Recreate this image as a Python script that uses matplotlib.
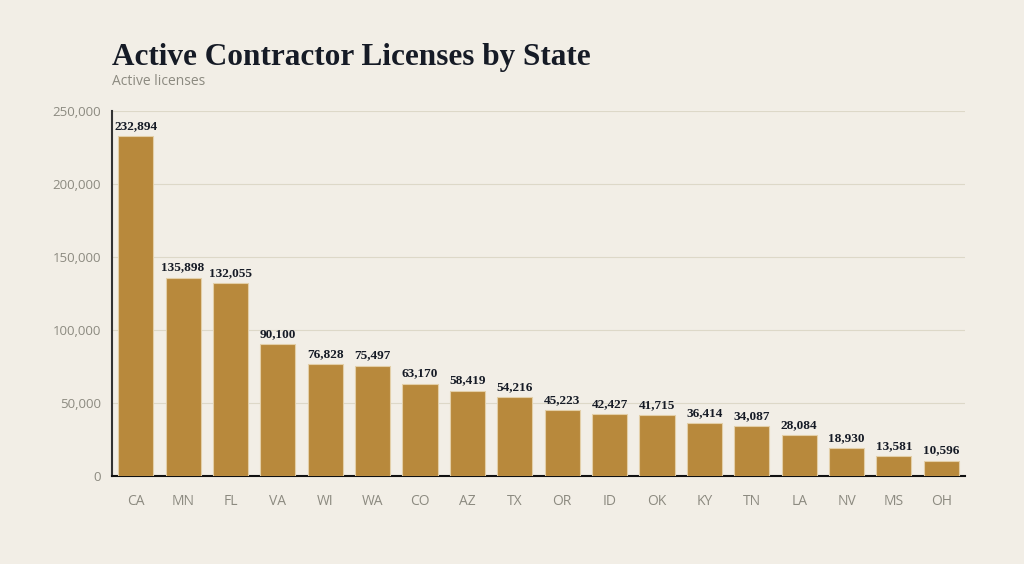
import matplotlib
matplotlib.use("Agg")
import matplotlib.pyplot as plt
from matplotlib.ticker import FuncFormatter, MultipleLocator

states = ["CA", "MN", "FL", "VA", "WI", "WA", "CO", "AZ", "TX", "OR", "ID", "OK",
          "KY", "TN", "LA", "NV", "MS", "OH"]
licenses = [232894, 135898, 132055, 90100, 76828, 75497, 63170, 58419, 54216,
            45223, 42427, 41715, 36414, 34087, 28084, 18930, 13581, 10596]

BG = "#F2EEE6"
BAR = "#B8893C"
DARK = "#161B26"
GRAY = "#8C8A80"
GRID = "#DDD8C8"

fig = plt.figure(figsize=(10.24, 5.64), dpi=100, facecolor=BG)
ax = fig.add_axes([112/1024, 1-476/564, (965-112)/1024, (476-111)/564])
ax.set_facecolor(BG)

x = list(range(len(states)))
bars = ax.bar(x, licenses, width=0.74, color=BAR, edgecolor="#E3CFA8", linewidth=0.8, zorder=3)

for xi, v in zip(x, licenses):
    ax.annotate(f"{v:,}", (xi, v), xytext=(0, 3), textcoords="offset points",
                ha="center", va="bottom", fontsize=9.5, fontweight="bold",
                family="Liberation Serif", color=DARK, zorder=4)

ax.set_xlim(-0.5, len(states) - 0.5)
ax.set_ylim(0, 250000)
ax.yaxis.set_major_locator(MultipleLocator(50000))
ax.yaxis.set_major_formatter(FuncFormatter(lambda v, p: f"{int(v):,}"))
ax.set_xticks(x)
ax.set_xticklabels(states)
ax.tick_params(axis="both", length=0, colors=GRAY, labelsize=9.5)
ax.tick_params(axis="x", pad=13, labelsize=10)
ax.tick_params(axis="y", pad=8)
for lbl in ax.get_xticklabels() + ax.get_yticklabels():
    lbl.set_family("Open Sans")

ax.grid(axis="y", color=GRID, linewidth=0.8, zorder=0)
for s in ["top", "right"]:
    ax.spines[s].set_visible(False)
ax.spines["left"].set_color("#333333")
ax.spines["left"].set_linewidth(1.5)
ax.spines["bottom"].set_color("#111111")
ax.spines["bottom"].set_linewidth(1.5)

fig.text(112/1024, 1-57/564, "Active Contractor Licenses by State", fontsize=22.5,
         fontweight="bold", family="Liberation Serif", color=DARK, va="center", ha="left")
fig.text(112/1024, 1-82/564, "Active licenses", fontsize=10, family="Open Sans",
         color=GRAY, va="center", ha="left")

fig.savefig("out.png", dpi=100, facecolor=BG)
